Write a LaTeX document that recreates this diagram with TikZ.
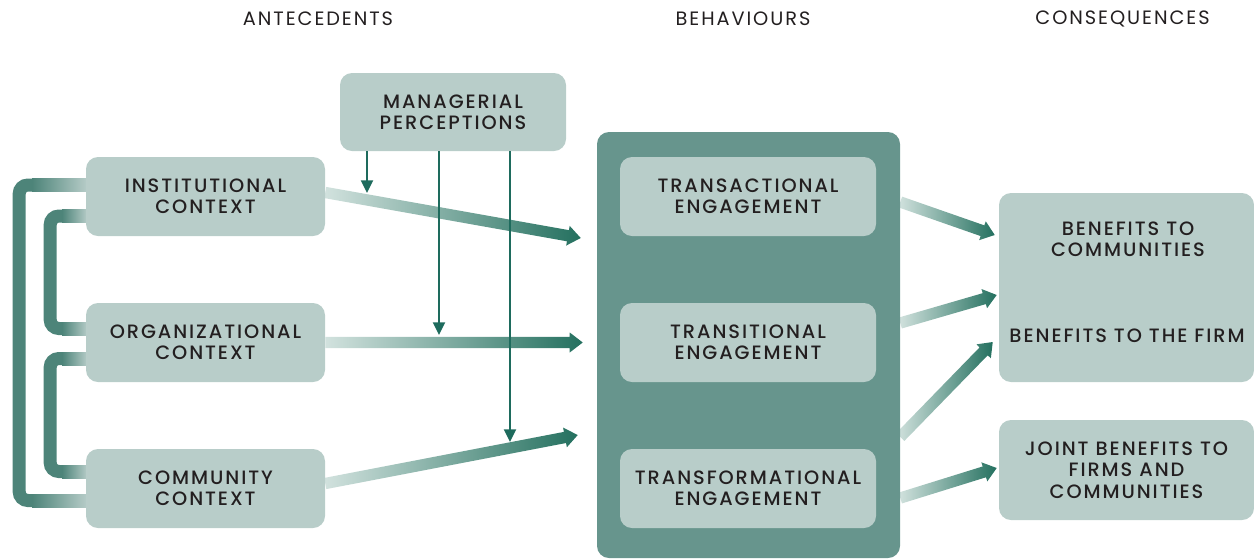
\documentclass[tikz,border=0pt]{standalone}
\usepackage{fontspec}
\setmainfont{Poppins}[UprightFont={* Medium}, LetterSpace=10]
\newfontfamily\hdrfont{Poppins}[LetterSpace=10]
\usetikzlibrary{calc,arrows.meta}
\pgfdeclarelayer{bg}
\pgfsetlayers{bg,main}
\definecolor{boxlight}{HTML}{B8CDC9}
\definecolor{boxdark}{HTML}{67958D}
\definecolor{arrowdark}{HTML}{24705F}
\definecolor{arrowlight}{HTML}{D2E2DE}
\definecolor{thinc}{HTML}{1E6B5D}
\definecolor{brkc}{HTML}{4D8479}
\definecolor{txtc}{HTML}{231F20}
\newcommand\gsw{4.25pt}
\newcommand\ghw{7.5pt}
\newcommand\ghl{9.75pt}
\newcommand\garrow[2]{%
  \coordinate (gh) at ($(#2)!\ghl!(#1)$);
  \shade[left color=arrowlight, right color=arrowdark]
    ($(#1)!\gsw!90:(#2)$) -- ($(gh)!\gsw!90:(#2)$) -- ($(gh)!\ghw!90:(#2)$) -- (#2)
    -- ($(gh)!\ghw!-90:(#2)$) -- ($(gh)!\gsw!-90:(#2)$) -- ($(#1)!\gsw!-90:(#2)$) -- cycle;}
\begin{document}
\begin{tikzpicture}[x=0.75pt,y=-0.75pt,
  hdr/.style={inner sep=0pt, text=txtc, font=\hdrfont\fontsize{14.5}{16}\selectfont},
  lbox/.style={fill=boxlight, rounded corners=9pt, inner sep=0pt, align=center, text=txtc,
    font=\fontsize{14.5}{16}\selectfont},
  ctx/.style={lbox, minimum width=179.25pt, minimum height=59.25pt},
  eng/.style={lbox, minimum width=192pt, minimum height=59.25pt},
  txtonly/.style={inner sep=0pt, align=center, text=txtc, font=\fontsize{14.5}{16}\selectfont},
  brk/.style={draw=brkc, line width=9.75pt, rounded corners=6.5pt},
  thinarrow/.style={draw=thinc, line width=1.6pt, -{Triangle[width=9pt,length=9.5pt]}}]
\useasboundingbox (0,0) rectangle (1254,558);
% headers
\node[hdr] (h1) at (318,18.5) {ANTECEDENTS};
\node[hdr] (h2) at (743,18.5) {BEHAVIOURS};
\node[hdr] (h3) at (1122.5,18.5) {CONSEQUENCES};
% boxes
\node[lbox, minimum width=169.5pt, minimum height=58.5pt] (mp) at (453,112) {MANAGERIAL\\PERCEPTIONS};
\node[ctx] (inst) at (205.5,196.5) {INSTITUTIONAL\\CONTEXT};
\node[ctx] (org) at (205.5,342.5) {ORGANIZATIONAL\\CONTEXT};
\node[ctx] (comm) at (205.5,488.5) {COMMUNITY\\CONTEXT};
\node[fill=boxdark, rounded corners=9pt, minimum width=227.25pt, minimum height=319.5pt, inner sep=0pt] (beh) at (748.5,345) {};
\node[eng] (trac) at (748,196.5) {TRANSACTIONAL\\ENGAGEMENT};
\node[eng] (trit) at (748,342.5) {TRANSITIONAL\\ENGAGEMENT};
\node[eng] (trfm) at (748,488.5) {TRANSFORMATIONAL\\ENGAGEMENT};
\node[lbox, minimum width=191.25pt, minimum height=141.75pt] (ben) at (1126.5,287.5) {};
\node[txtonly] (benc) at (1128,239) {BENEFITS TO\\COMMUNITIES};
\node[txtonly] (benf) at (1127,336) {BENEFITS TO THE FIRM};
\node[lbox, minimum width=191.25pt, minimum height=75pt] (joint) at (1126.5,470) {JOINT BENEFITS TO\\FIRMS AND\\COMMUNITIES};
% connectors on background
\begin{pgfonlayer}{bg}
  % brackets
  \draw[brk] ($(inst.west)+(4,-11.5)$) -| ($(comm.west)+(-66.5,12)$) -- ($(comm.west)+(4,12)$);
  \draw[brk] ($(inst.west)+(4,19.5)$) -| ($(org.west)+(-35.5,-14)$) -- ($(org.west)+(4,-14)$);
  \draw[brk] ($(org.west)+(4,16)$) -| ($(comm.west)+(-35.5,-17)$) -- ($(comm.west)+(4,-17)$);
  \shade[left color=brkc, right color=boxlight] (32,178.5) rectangle (88,191.5);
  \shade[left color=brkc, right color=boxlight] (32,494) rectangle (88,507);
  \shade[left color=brkc, right color=boxlight] (62,209.5) rectangle (88,222.5);
  \shade[left color=brkc, right color=boxlight] (62,322) rectangle (88,335);
  \shade[left color=brkc, right color=boxlight] (62,352) rectangle (88,365);
  \shade[left color=brkc, right color=boxlight] (62,465) rectangle (88,478);
  % left thick arrows
  \coordinate (l1s) at ($(inst.east)+(0,-4)$);
  \coordinate (l1e) at ($(beh.west)+(-16,-107)$);
  \coordinate (l2s) at (org.east);
  \coordinate (l2e) at ($(beh.west)+(-14,-2.5)$);
  \coordinate (l3s) at ($(comm.east)+(0,-5)$);
  \coordinate (l3e) at ($(beh.west)+(-19,90)$);
  \garrow{l1s}{l1e}
  \garrow{l2s}{l2e}
  \garrow{l3s}{l3e}
  % right thick arrows
  \coordinate (r1s) at ($(trac.east)+(24,5.5)$);
  \coordinate (r1e) at ($(ben.west)+(-4,-52.5)$);
  \coordinate (r2s) at ($(trit.east)+(24,-19.5)$);
  \coordinate (r2e) at ($(ben.west)+(-2,7.5)$);
  \coordinate (r3s) at ($(trfm.east)+(24,-51.5)$);
  \coordinate (r3e) at ($(ben.west)+(-6,54.5)$);
  \coordinate (r4s) at ($(trfm.east)+(24,9.5)$);
  \coordinate (r4e) at ($(joint.west)+(-2,-2)$);
  \garrow{r1s}{r1e}
  \garrow{r2s}{r2e}
  \garrow{r3s}{r3e}
  \garrow{r4s}{r4e}
\end{pgfonlayer}
% thin arrows from managerial perceptions
\coordinate (t1) at (367,193);
\coordinate (t2) at (439,335);
\coordinate (t3) at (510,442);
\draw[thinarrow] (mp.south -| t1) -- (t1);
\draw[thinarrow] (mp.south -| t2) -- (t2);
\draw[thinarrow] (mp.south -| t3) -- (t3);
\end{tikzpicture}
\end{document}
